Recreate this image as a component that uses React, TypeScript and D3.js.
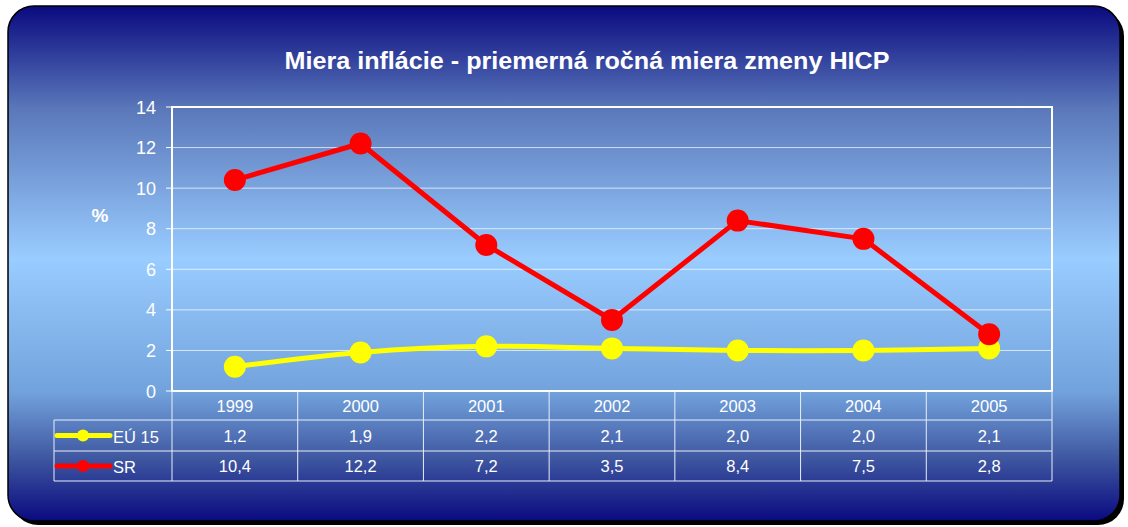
import React from "react";
import * as d3 from "d3";

const years = ["1999", "2000", "2001", "2002", "2003", "2004", "2005"];
const eu15 = [1.2, 1.9, 2.2, 2.1, 2.0, 2.0, 2.1];
const sr = [10.4, 12.2, 7.2, 3.5, 8.4, 7.5, 2.8];
const yTicks = [0, 2, 4, 6, 8, 10, 12, 14];
const title = "Miera inflácie - priemerná ročná miera zmeny HICP";
const seriesNames = ["EÚ 15", "SR"];

export default function App() {
  const W = 1128, H = 527;
  const left = 172, right = 1052, top = 107, bottom = 391;
  const x = d3.scaleBand().domain(years).range([left, right]);
  const y = d3.scaleLinear().domain([0, 14]).range([bottom, top]);
  const cx = (d: string) => (x(d) as number) + x.bandwidth() / 2;
  const lineSmooth = d3.line<number>().x((_, i) => cx(years[i])).y((v) => y(v)).curve(d3.curveCatmullRom.alpha(0.5));
  const lineStraight = d3.line<number>().x((_, i) => cx(years[i])).y((v) => y(v));
  const rowTops = [391, 420, 451, 481];
  const legendLeft = 54;
  const font = "Arial, 'Liberation Sans', sans-serif";
  const series = [
    { name: seriesNames[0], data: eu15, color: "#ffff00", path: lineSmooth },
    { name: seriesNames[1], data: sr, color: "#ff0000", path: lineStraight },
  ];
  const fmt = (v: number) => v.toFixed(1).replace(".", ",");
  return (
    <svg width={W} height={H} style={{ position: "absolute", left: 0, top: 0 }} fontFamily={font}>
      <defs>
        <linearGradient id="bg" x1="0" y1="0" x2="0" y2="1">
          <stop offset="0" stopColor="#0a0a80" />
          <stop offset="0.2" stopColor="#5a78ba" />
          <stop offset="0.49" stopColor="#99ccff" />
          <stop offset="0.75" stopColor="#72a2dc" />
          <stop offset="0.88" stopColor="#3e56a0" />
          <stop offset="1" stopColor="#0a0a80" />
        </linearGradient>
      </defs>
      <rect x={0} y={0} width={W} height={H} fill="#ffffff" />
      <rect x={12} y={10} width={1112} height={515} rx={26} fill="#000" />
      <rect x={8} y={6} width={1112} height={515} rx={26} fill="url(#bg)" stroke="#000" strokeWidth={1.5} />
      <text x={587} y={69} textAnchor="middle" fill="#fff" fontSize={24.5} fontWeight="bold" textLength={605} lengthAdjust="spacingAndGlyphs">{title}</text>
      <text x={100} y={222} textAnchor="middle" fill="#fff" fontSize={19} fontWeight="bold">%</text>
      {yTicks.map((t) => (
        <g key={t}>
          {t > 0 && t < 14 && <line x1={left} x2={right} y1={y(t)} y2={y(t)} stroke="#ffffff" strokeOpacity={0.7} strokeWidth={1} />}
          <line x1={left - 6} x2={left} y1={y(t)} y2={y(t)} stroke="#fff" strokeWidth={1} />
          <text x={left - 16} y={y(t) + 6.5} textAnchor="end" fill="#fff" fontSize={18}>{t}</text>
        </g>
      ))}
      <rect x={left} y={top} width={right - left} height={bottom - top} fill="none" stroke="#fff" strokeWidth={2} />
      <g stroke="#e8eef8" strokeWidth={1} fill="none">
        <line x1={legendLeft} x2={right} y1={rowTops[1]} y2={rowTops[1]} />
        <line x1={legendLeft} x2={right} y1={rowTops[2]} y2={rowTops[2]} />
        <line x1={legendLeft} x2={right} y1={rowTops[3]} y2={rowTops[3]} />
        <line x1={legendLeft} x2={legendLeft} y1={rowTops[1]} y2={rowTops[3]} />
        <line x1={right} x2={right} y1={rowTops[0]} y2={rowTops[3]} />
        {years.map((yr) => (
          <line key={yr} x1={x(yr) as number} x2={x(yr) as number} y1={rowTops[0]} y2={rowTops[3]} />
        ))}
      </g>
      {years.map((yr) => (
        <text key={yr} x={cx(yr)} y={(rowTops[0] + rowTops[1]) / 2 + 6} textAnchor="middle" fill="#fff" fontSize={16.5}>{yr}</text>
      ))}
      {series.map((s, si) => {
        const my = (rowTops[si + 1] + rowTops[si + 2]) / 2;
        return (
          <g key={s.name}>
            <line x1={legendLeft + 3} x2={legendLeft + 56} y1={my} y2={my} stroke={s.color} strokeWidth={5} strokeLinecap="round" />
            <circle cx={legendLeft + 29} cy={my} r={6} fill={s.color} />
            <text x={legendLeft + 59} y={my + 7} fill="#fff" fontSize={16.5}>{s.name}</text>
            {s.data.map((v, i) => (
              <text key={i} x={cx(years[i])} y={my + 6} textAnchor="middle" fill="#fff" fontSize={16.5}>{fmt(v)}</text>
            ))}
          </g>
        );
      })}
      {series.map((s) => (
        <g key={s.name}>
          <path d={s.path(s.data) as string} fill="none" stroke={s.color} strokeWidth={5} strokeLinejoin="round" />
          {s.data.map((v, i) => (
            <circle key={i} cx={cx(years[i])} cy={y(v)} r={11} fill={s.color} />
          ))}
        </g>
      ))}
    </svg>
  );
}
